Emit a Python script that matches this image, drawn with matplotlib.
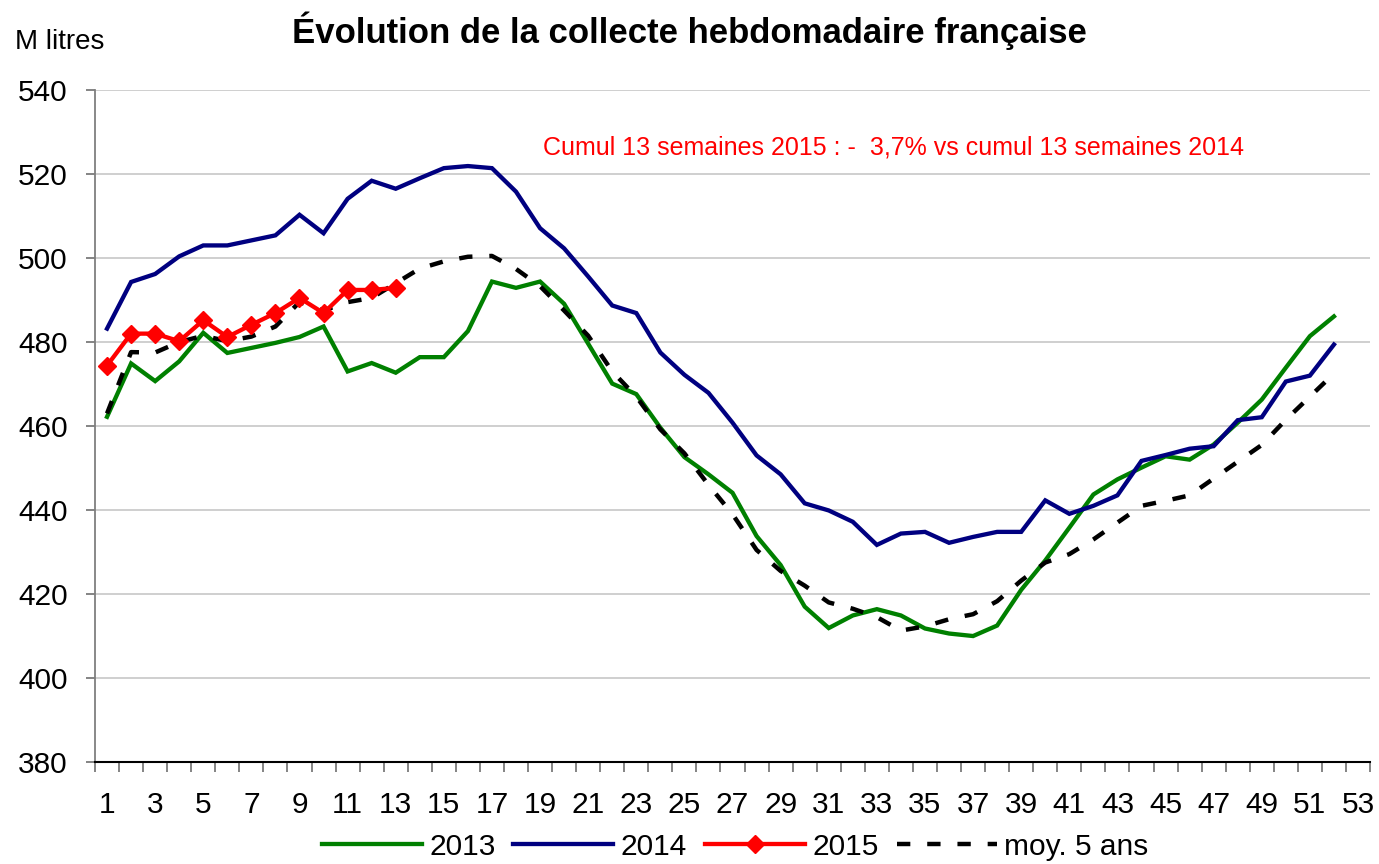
import matplotlib
matplotlib.use("Agg")
import matplotlib.pyplot as plt
import numpy as np

plt.rcParams["font.family"] = ["Liberation Sans", "DejaVu Sans"]

# weekly milk collection, millions of litres
weeks = np.arange(1, 53)
collecte_2013 = [462.2, 474.9, 470.7, 475.4, 482.2, 477.4, 478.6, 479.8, 481.2, 483.7,
                 473.0, 475.0, 472.7, 476.4, 476.4, 482.6, 494.4, 492.9, 494.4, 489.1,
                 479.6, 470.1, 467.6, 459.6, 452.6, 448.5, 444.1, 433.8, 426.9, 417.0,
                 411.9, 414.9, 416.4, 414.9, 411.8, 410.6, 410.0, 412.5, 421.0, 428.0,
                 435.8, 443.7, 447.3, 450.1, 452.8, 452.0, 455.6, 460.8, 466.3, 473.9,
                 481.4, 486.1]
collecte_2014 = [483.2, 494.3, 496.2, 500.4, 503.0, 503.0, 504.2, 505.4, 510.3, 505.9,
                 514.1, 518.4, 516.5, 519.0, 521.4, 521.9, 521.4, 515.8, 507.1, 502.3,
                 495.6, 488.7, 486.9, 477.5, 472.2, 467.9, 460.8, 453.0, 448.5, 441.6,
                 439.9, 437.2, 431.7, 434.4, 434.8, 432.2, 433.6, 434.8, 434.8, 442.3,
                 439.1, 441.0, 443.5, 451.7, 453.1, 454.6, 455.2, 461.4, 462.1, 470.6,
                 472.0, 479.4]
collecte_2015 = [474.4, 482.0, 482.0, 480.2, 485.2, 481.2, 484.1, 486.9, 490.5, 486.9,
                 492.4, 492.4, 492.9]
moy_5_ans = [463.0, 477.6, 477.5, 480.0, 481.5, 480.2, 481.3, 483.7, 489.5, 487.5,
             489.5, 490.5, 494.0, 497.5, 499.2, 500.3, 500.5, 497.4, 493.3, 487.5,
             481.5, 473.0, 467.0, 459.2, 453.5, 446.0, 439.0, 430.5, 425.5, 422.0,
             418.0, 416.5, 414.5, 411.3, 412.3, 414.0, 415.2, 418.3, 423.2, 427.5,
             429.5, 433.0, 437.0, 441.0, 442.2, 443.5, 447.5, 451.5, 455.5, 461.5,
             467.0, 472.5]

y_ticks = np.arange(380, 541, 20)
x_labels = np.arange(1, 54, 2)

fig = plt.figure(figsize=(13.79, 8.64), dpi=100)
ax = fig.add_axes([0.0689, 0.118, 0.9246, 0.7778])

ax.plot(weeks, collecte_2013, color="#008000", lw=3.1, label="2013", solid_joinstyle="miter")
ax.plot(weeks, collecte_2014, color="#000080", lw=3.1, label="2014", solid_joinstyle="miter")
ax.plot(weeks[:len(collecte_2015)], collecte_2015, color="#ff0000", lw=3.1,
        marker="D", ms=9, label="2015", zorder=4)
ax.plot(weeks, moy_5_ans, color="black", lw=3.2, dashes=(3, 3.8), label="moy. 5 ans",
        dash_capstyle="butt", zorder=3)

ax.set_xlim(0.5, 53.5)
ax.set_ylim(380, 540)
ax.set_yticks(y_ticks)
ax.set_xticks(x_labels)
ax.set_xticks(np.arange(0.5, 54, 1), minor=True)
ax.tick_params(axis="x", which="major", length=0, pad=21, labelsize=21.5)
ax.tick_params(axis="x", which="minor", length=7, width=1.2, color="#6f6f6f", direction="out")
ax.tick_params(axis="y", length=6.5, width=1.2, color="#6f6f6f", pad=13, labelsize=21.5)

ax.yaxis.grid(True, color="#cccccc", lw=1.3)
ax.set_axisbelow(True)
for side in ("top", "right"):
    ax.spines[side].set_visible(False)
ax.spines["left"].set_color("#7f7f7f")
ax.spines["left"].set_linewidth(1.3)
ax.spines["bottom"].set_color("black")
ax.spines["bottom"].set_linewidth(1.5)

fig.text(0.5, 0.964, "Évolution de la collecte hebdomadaire française",
         ha="center", va="center", fontsize=25, fontweight="bold")
fig.text(0.011, 0.951, "M litres", ha="left", va="center", fontsize=20)
ax.text(0.626, 0.914, "Cumul 13 semaines 2015 : -  3,7% vs cumul 13 semaines 2014",
        transform=ax.transAxes, ha="center", va="center", fontsize=18, color="#ff0000")

fig.legend(loc="center", bbox_to_anchor=(0.533, 0.02), ncol=4, frameon=False,
           fontsize=21.5, handlelength=3.35, handletextpad=0.25, columnspacing=0.6)

fig.savefig("out.png", dpi=100)
